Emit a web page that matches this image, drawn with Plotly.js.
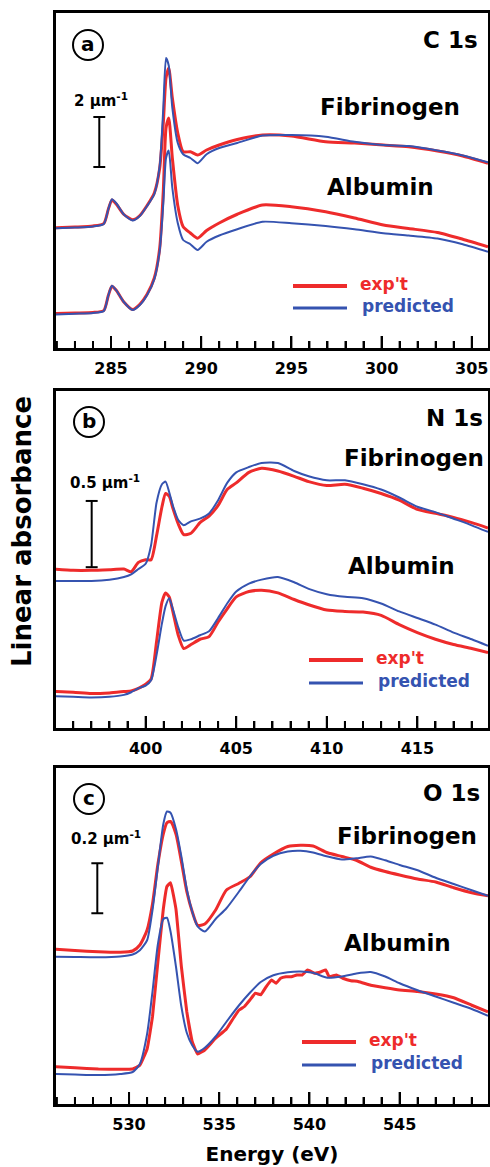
<!DOCTYPE html>
<html>
<head>
<meta charset="utf-8">
<script src="https://cdn.plot.ly/plotly-3.0.1.min.js"></script>
<style>
html,body{margin:0;padding:0;background:#fff;}
#wrap{position:relative;width:490px;height:1167px;}
.panel{position:absolute;left:0;width:490px;}
#pa{top:0;height:380px;} #pb{top:380px;height:380px;} #pc{top:760px;height:407px;}
</style>
</head>
<body>
<div id="wrap"><div id="pa" class="panel"></div><div id="pb" class="panel"></div><div id="pc" class="panel"></div></div>
<script>
// ---------- DATA (linear absorbance, μm^-1, curves stacked as in the figure) ----------
// Panel (a) C 1s
const energyC = [281.9, 283.0, 284.0, 284.6, 284.85, 285.05, 285.3, 285.7, 286.2, 286.6, 287.0, 287.4, 287.7, 287.9, 288.05, 288.2, 288.4, 288.7, 289.0, 289.4, 289.8, 290.3, 291.0, 292.0, 293.4, 295.0, 296.9, 298.5, 300.1, 301.5, 303.1, 304.5, 305.9];
const cFibExp  = [4.81, 4.84, 4.88, 4.98, 5.55, 5.92, 5.75, 5.35, 5.13, 5.30, 5.70, 6.20, 7.20, 9.00, 10.8, 11.2, 10.0, 8.60, 7.85, 7.85, 7.72, 7.92, 8.12, 8.34, 8.52, 8.48, 8.25, 8.20, 8.12, 8.05, 7.88, 7.68, 7.39];
const cFibPred = [4.79, 4.82, 4.86, 4.96, 5.55, 5.95, 5.78, 5.35, 5.10, 5.28, 5.68, 6.15, 7.30, 9.60, 11.6, 11.3, 9.60, 8.20, 7.75, 7.60, 7.39, 7.75, 8.00, 8.20, 8.50, 8.52, 8.45, 8.25, 8.12, 8.08, 7.90, 7.70, 7.43];
const cAlbExp  = [1.38, 1.40, 1.42, 1.50, 2.10, 2.47, 2.30, 1.85, 1.54, 1.75, 2.15, 2.80, 4.00, 6.30, 8.80, 9.20, 7.60, 5.70, 4.85, 4.60, 4.39, 4.70, 5.00, 5.35, 5.72, 5.65, 5.45, 5.20, 4.92, 4.78, 4.62, 4.35, 4.05];
const cAlbPred = [1.34, 1.37, 1.40, 1.48, 2.10, 2.49, 2.30, 1.85, 1.52, 1.72, 2.12, 2.75, 3.90, 5.80, 7.60, 7.90, 6.40, 5.00, 4.32, 4.15, 3.92, 4.25, 4.50, 4.75, 5.05, 4.99, 4.88, 4.75, 4.59, 4.50, 4.38, 4.15, 3.85];

// Panel (b) N 1s
const energyN = [394.9, 396.0, 397.0, 398.0, 398.8, 399.2, 399.6, 400.0, 400.3, 400.6, 400.9, 401.1, 401.3, 401.5, 401.8, 402.1, 402.5, 403.0, 403.5, 404.0, 404.5, 405.0, 405.7, 406.4, 407.3, 408.2, 409.0, 410.0, 411.0, 412.0, 413.0, 414.0, 415.0, 416.0, 417.0, 418.0, 418.9];
const nFibExp  = [1.20, 1.19, 1.19, 1.195, 1.20, 1.18, 1.25, 1.27, 1.27, 1.45, 1.67, 1.77, 1.75, 1.66, 1.54, 1.46, 1.47, 1.55, 1.60, 1.68, 1.80, 1.85, 1.93, 1.96, 1.94, 1.90, 1.86, 1.83, 1.84, 1.81, 1.77, 1.72, 1.65, 1.62, 1.59, 1.55, 1.51];
const nFibPred = [1.11, 1.11, 1.11, 1.12, 1.14, 1.16, 1.20, 1.24, 1.38, 1.70, 1.84, 1.86, 1.78, 1.68, 1.57, 1.53, 1.56, 1.58, 1.62, 1.72, 1.85, 1.93, 1.97, 2.00, 2.00, 1.94, 1.90, 1.87, 1.87, 1.84, 1.80, 1.74, 1.67, 1.63, 1.58, 1.53, 1.48];
const nAlbExp  = [0.276, 0.27, 0.26, 0.265, 0.275, 0.28, 0.30, 0.33, 0.37, 0.65, 0.95, 1.02, 0.99, 0.88, 0.70, 0.60, 0.63, 0.67, 0.69, 0.80, 0.90, 0.99, 1.03, 1.04, 1.02, 0.97, 0.93, 0.89, 0.88, 0.875, 0.85, 0.78, 0.72, 0.67, 0.63, 0.60, 0.57];
const nAlbPred = [0.24, 0.235, 0.23, 0.235, 0.25, 0.27, 0.30, 0.32, 0.36, 0.55, 0.79, 0.92, 0.98, 0.90, 0.76, 0.66, 0.67, 0.70, 0.73, 0.83, 0.94, 1.03, 1.09, 1.12, 1.14, 1.10, 1.05, 1.01, 0.99, 0.98, 0.94, 0.88, 0.83, 0.78, 0.72, 0.67, 0.62];

// Panel (c) O 1s
const energyO = [525.9, 527.0, 528.3, 529.5, 530.2, 530.6, 531.0, 531.3, 531.6, 531.9, 532.1, 532.3, 532.6, 532.9, 533.2, 533.5, 533.8, 534.2, 534.8, 535.4, 536.1, 536.7, 537.3, 538.0, 538.8, 539.5, 540.2, 541.0, 541.8, 542.6, 543.4, 544.2, 545.0, 546.0, 547.0, 548.0, 549.0, 549.9];
const oFibExp  = [0.619, 0.614, 0.609, 0.607, 0.612, 0.636, 0.696, 0.80, 0.96, 1.08, 1.125, 1.13, 1.08, 0.97, 0.85, 0.77, 0.715, 0.72, 0.776, 0.856, 0.883, 0.909, 0.965, 1.00, 1.03, 1.035, 1.032, 1.005, 0.99, 0.975, 0.947, 0.93, 0.916, 0.90, 0.888, 0.865, 0.845, 0.833];
const oFibPred = [0.589, 0.588, 0.587, 0.59, 0.598, 0.615, 0.655, 0.776, 0.95, 1.12, 1.17, 1.165, 1.10, 0.99, 0.86, 0.77, 0.71, 0.69, 0.74, 0.783, 0.85, 0.91, 0.96, 0.993, 1.01, 1.013, 1.006, 0.99, 0.978, 0.983, 0.99, 0.975, 0.956, 0.935, 0.905, 0.88, 0.855, 0.833];
const oAlbPred = [0.12, 0.118, 0.116, 0.12, 0.128, 0.16, 0.28, 0.45, 0.64, 0.74, 0.745, 0.69, 0.55, 0.39, 0.285, 0.235, 0.209, 0.225, 0.27, 0.329, 0.395, 0.445, 0.488, 0.515, 0.527, 0.53, 0.525, 0.505, 0.51, 0.522, 0.528, 0.51, 0.483, 0.455, 0.43, 0.405, 0.38, 0.353];
// noisy experimental albumin O 1s spectrum, read on its own finer grid
const energyOAlbExp = [525.9, 527.0, 528.3, 529.5, 530.2, 530.6, 531.0, 531.3, 531.6, 531.9, 532.1, 532.3, 532.6, 532.9, 533.2, 533.5, 533.8, 534.2, 534.8, 535.4, 535.8, 536.1, 536.4, 536.7, 537.0, 537.3, 537.6, 537.9, 538.15, 538.4, 538.7, 539.0, 539.3, 539.6, 539.9, 540.3, 540.65, 540.9, 541.1, 541.5, 541.85, 542.3, 542.7, 543.4, 544.2, 545.0, 546.0, 547.0, 548.0, 549.0, 549.9];
const oAlbExp = [0.149, 0.145, 0.14, 0.139, 0.14, 0.155, 0.22, 0.35, 0.57, 0.78, 0.87, 0.885, 0.78, 0.55, 0.37, 0.25, 0.20, 0.216, 0.263, 0.30, 0.345, 0.376, 0.39, 0.416, 0.443, 0.437, 0.469, 0.496, 0.483, 0.503, 0.509, 0.509, 0.516, 0.516, 0.536, 0.523, 0.529, 0.536, 0.509, 0.516, 0.503, 0.493, 0.49, 0.475, 0.465, 0.456, 0.45, 0.44, 0.425, 0.395, 0.369];

const edgeLabels = ["C 1s", "N 1s", "O 1s"];
const panelLetters = ["a", "b", "c"];
const scaleLabels = ["2 μm<sup>-1</sup>", "0.5 μm<sup>-1</sup>", "0.2 μm<sup>-1</sup>"];
const scaleValues = [2, 0.5, 0.2];
const sampleNames = ["Fibrinogen", "Albumin"];
const legendNames = ["exp't", "predicted"];
const xTitle = "Energy (eV)";
const yTitle = "Linear absorbance";

// ---------- STYLE / LAYOUT ----------
const RED = '#ee2b2b', BLUE = '#3553b0';
const W = 490, ML = 56, MR = 2;
const FONT = 'DejaVu Sans, Arial, sans-serif';
const MAJOR_LEN = 12, MINOR_LEN = 7;

const panels = [
  {div: 'pa', top: 0, h: 380, mt: 13, mb: 32,
   series: [[energyC, cFibExp, RED], [energyC, cAlbExp, RED], [energyC, cFibPred, BLUE], [energyC, cAlbPred, BLUE]],
   xr: [281.95, 305.9], yr: [0, 13.4], circ: [88, 45], edge: [480, 40], slab: [72, 100], bar: [284.35, 7.24],
   fib: [390, 107], alb: [380, 187], leg: [293, 347, 286, 308]},
  {div: 'pb', top: 380, h: 380, mt: 11, mb: 32,
   series: [[energyN, nFibExp, RED], [energyN, nAlbExp, RED], [energyN, nFibPred, BLUE], [energyN, nAlbPred, BLUE]],
   xr: [395.05, 418.9], yr: [0, 2.544], circ: [89, 422], edge: [485, 418], slab: [68, 482], bar: [397.02, 1.214],
   fib: [414, 458], alb: [401, 566], leg: [309, 363, 660, 683]},
  {div: 'pc', top: 760, h: 407, mt: 8, mb: 63,
   series: [[energyO, oFibExp, RED], [energyOAlbExp, oAlbExp, RED], [energyO, oFibPred, BLUE], [energyO, oAlbPred, BLUE]],
   xr: [525.95, 549.9], yr: [0, 1.344], circ: [89, 799], edge: [482, 793], slab: [69, 838], bar: [528.24, 0.763],
   fib: [407, 836], alb: [397, 943], leg: [302, 356, 1042, 1065]}
];

panels.forEach((p, i) => {
  const PX = px => (px - ML) / (W - ML - MR);
  const PY = py => (p.top + p.h - p.mb - py) / (p.h - p.mt - p.mb);
  const plotH = p.h - p.mt - p.mb;
  const traces = p.series.map(([xs, ys, col], k) => ({
    x: xs, y: ys, mode: 'lines', type: 'scatter',
    line: {color: col, width: col === RED ? 3 : 2, shape: 'spline', smoothing: (i === 2 && k === 1) ? 0.3 : 0.6}
  }));
  // inward tick marks on the energy axis (every 1 eV, longer every 5 eV), drawn on the axis scale
  const tickX = [], tickY = [];
  const yPerPx = (p.yr[1] - p.yr[0]) / plotH;
  for (let v = Math.ceil(p.xr[0]); v <= p.xr[1]; v++) {
    tickX.push(v, v, null);
    tickY.push(p.yr[0], p.yr[0] + (v % 5 === 0 ? MAJOR_LEN : MINOR_LEN) * yPerPx, null);
  }
  traces.push({x: tickX, y: tickY, mode: 'lines', type: 'scatter', connectgaps: false,
    line: {color: '#000', width: 2}});
  const serif = 0.33;
  const bx = p.bar[0], by0 = p.bar[1], by1 = p.bar[1] + scaleValues[i];
  const [lx0, lx1, ly0, ly1] = p.leg;
  const ann = (x, y, text, size, xanchor, color) => ({xref: 'paper', yref: 'paper', x: x, y: y, text: '<b>' + text + '</b>',
    showarrow: false, xanchor: xanchor, yanchor: 'middle', font: {size: size, family: FONT, color: color || '#000'}});
  const shapes = [
    {type: 'circle', xref: 'paper', yref: 'paper', xsizemode: 'pixel', ysizemode: 'pixel',
     xanchor: PX(p.circ[0]), yanchor: PY(p.circ[1]), x0: -15, x1: 15, y0: -15, y1: 15, line: {color: '#000', width: 2}},
    {type: 'line', xref: 'x', yref: 'y', x0: bx, x1: bx, y0: by0, y1: by1, line: {color: '#000', width: 2}},
    {type: 'line', xref: 'x', yref: 'y', x0: bx - serif, x1: bx + serif, y0: by0, y1: by0, line: {color: '#000', width: 2}},
    {type: 'line', xref: 'x', yref: 'y', x0: bx - serif, x1: bx + serif, y0: by1, y1: by1, line: {color: '#000', width: 2}},
    {type: 'line', xref: 'paper', yref: 'paper', x0: PX(lx0), x1: PX(lx1), y0: PY(ly0), y1: PY(ly0), line: {color: RED, width: 4}},
    {type: 'line', xref: 'paper', yref: 'paper', x0: PX(lx0), x1: PX(lx1), y0: PY(ly1), y1: PY(ly1), line: {color: BLUE, width: 3}}
  ];
  const layout = {
    width: W, height: p.h, margin: {l: ML, r: MR, t: p.mt, b: p.mb},
    paper_bgcolor: '#fff', plot_bgcolor: '#fff', showlegend: false, font: {family: FONT, color: '#000'},
    xaxis: {range: p.xr, showline: true, linewidth: 3, linecolor: '#000', mirror: true,
      ticks: 'inside', ticklen: MAJOR_LEN, tickwidth: 2, tickcolor: '#000', dtick: 5, tick0: 0,
      minor: {dtick: 1, ticks: 'inside', ticklen: MINOR_LEN, tickwidth: 2, tickcolor: '#000', showgrid: false},
      showgrid: false, zeroline: false, ticklabelstandoff: 4,
      tickfont: {family: FONT, size: 16, weight: 'bold', color: '#000'}},
    yaxis: {range: p.yr, showline: true, linewidth: 3, linecolor: '#000', mirror: true,
      ticks: '', showticklabels: false, showgrid: false, zeroline: false},
    shapes: shapes,
    annotations: [
      ann(PX(p.circ[0]), PY(p.circ[1] - 1), panelLetters[i], 20, 'center'),
      ann(PX(p.edge[0]), PY(p.edge[1]), edgeLabels[i], 23, 'right'),
      ann(PX(p.slab[0]), PY(p.slab[1]), scaleLabels[i], 15, 'left'),
      ann(PX(p.fib[0]), PY(p.fib[1]), sampleNames[0], 23, 'center'),
      ann(PX(p.alb[0]), PY(p.alb[1]), sampleNames[1], 23, 'center'),
      ann(PX(lx1 + 11), PY(ly0 - 2), legendNames[0], 17, 'left', RED),
      ann(PX(lx1 + 13), PY(ly1 - 2), legendNames[1], 17, 'left', BLUE)
    ]
  };
  if (i === 1) {
    const a = ann(PX(22), PY(532), yTitle, 26, 'center');
    a.textangle = -90;
    layout.annotations.push(a);
  }
  if (i === 2) {
    layout.xaxis.title = {text: '<b>' + xTitle + '</b>', font: {size: 20, family: FONT, color: '#000'}, standoff: 14};
  }
  Plotly.newPlot(p.div, traces, layout, {staticPlot: true, displayModeBar: false});
});
</script>
</body>
</html>
